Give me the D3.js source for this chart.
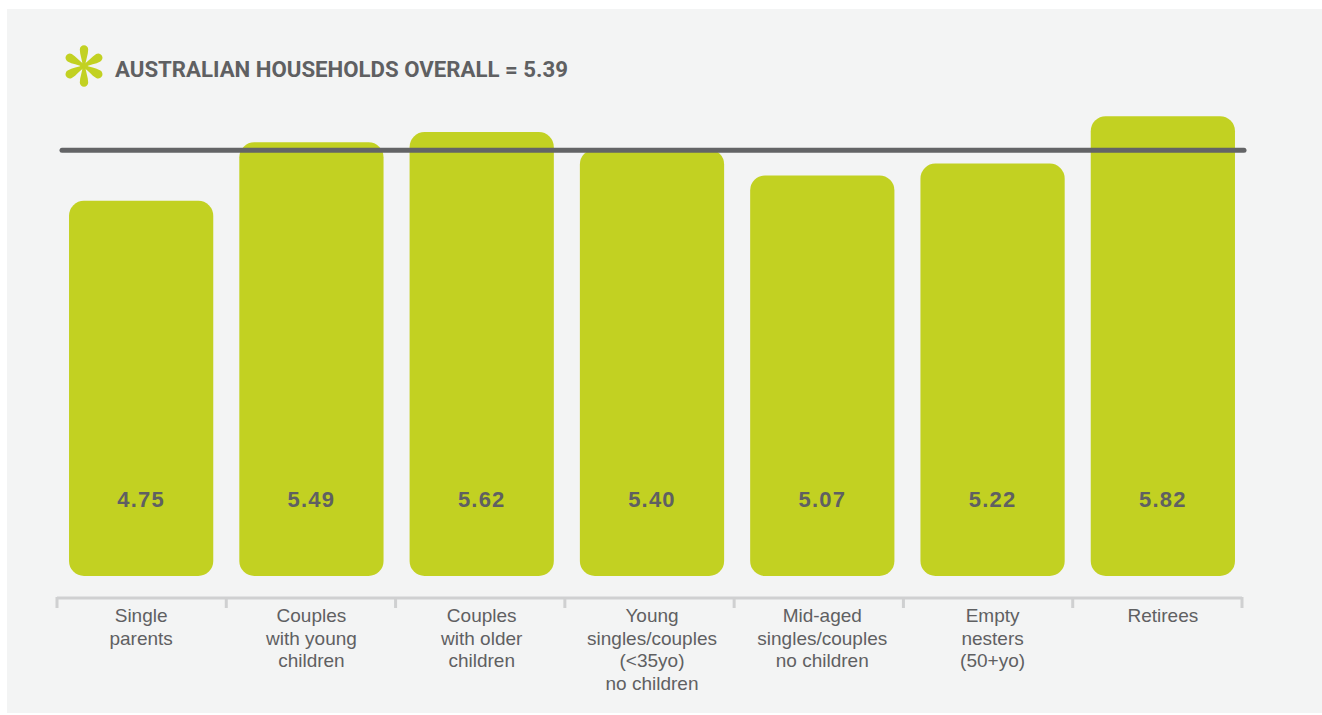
<!DOCTYPE html>
<html><head><meta charset="utf-8">
<script src="https://cdn.jsdelivr.net/npm/d3@7"></script>
<style>body{margin:0;background:#fff;}svg{display:block;}</style>
</head><body>
<svg id="c" width="1322" height="715"></svg>
<script>
const categories = [
  ["Single","parents"],
  ["Couples","with young","children"],
  ["Couples","with older","children"],
  ["Young","singles/couples","(<35yo)","no children"],
  ["Mid-aged","singles/couples","no children"],
  ["Empty","nesters","(50+yo)"],
  ["Retirees"]
];
const values = [4.75, 5.49, 5.62, 5.40, 5.07, 5.22, 5.82];
const overall = 5.39;
const titleText = "AUSTRALIAN HOUSEHOLDS OVERALL = 5.39";

const svg = d3.select("#c");
svg.append("rect").attr("x",7).attr("y",9).attr("width",1315).attr("height",704).attr("fill","#f3f4f4");

const keys = categories.map((d,i)=>i);
const x = d3.scaleBand().domain(keys).range([57,1247]).paddingInner(26/170).paddingOuter(12/170);
const y = d3.scaleLinear().domain([0,6]).range([576,576-6*79]);

const green = "#c2d122";
// bars
svg.append("g").selectAll("rect").data(values).join("rect")
  .attr("x",(d,i)=>x(i)).attr("width",x.bandwidth())
  .attr("y",d=>y(d)).attr("height",d=>y(0)-y(d))
  .attr("rx",15).attr("ry",15).attr("fill",green);

// value labels
svg.append("g").selectAll("text").data(values).join("text")
  .attr("x",(d,i)=>x(i)+x.bandwidth()/2).attr("y",507)
  .attr("text-anchor","middle")
  .attr("font-family","Liberation Sans, Arial, sans-serif")
  .attr("font-weight","bold").attr("font-size",22).attr("letter-spacing",1.2).attr("fill","#5f6062")
  .text(d=>d.toFixed(2));

// overall line
svg.append("line").attr("x1",62).attr("x2",1244)
  .attr("y1",y(overall)).attr("y2",y(overall))
  .attr("stroke","#636466").attr("stroke-width",5).attr("stroke-linecap","round");

// axis
const xa = d3.scaleBand().domain(keys).range([57,1242]);
const axis = svg.append("g");
axis.append("line").attr("x1",57).attr("x2",1242).attr("y1",598).attr("y2",598)
  .attr("stroke","#cfd0d1").attr("stroke-width",3);
const tickPos = keys.map(k=>xa(k)).concat([1242]);
axis.selectAll("line.t").data(tickPos).join("line").attr("class","t")
  .attr("x1",d=>d).attr("x2",d=>d).attr("y1",597).attr("y2",608)
  .attr("stroke","#cfd0d1").attr("stroke-width",3);

// category labels
const lab = svg.append("g").selectAll("text").data(categories).join("text")
  .attr("text-anchor","middle")
  .attr("font-family","Liberation Sans, Arial, sans-serif")
  .attr("font-size",19).attr("fill","#5f6062");
lab.each(function(lines,i){
  const t = d3.select(this);
  lines.forEach((l,j)=>{
    t.append("tspan").attr("x",x(i)+x.bandwidth()/2).attr("y",622+j*22.5).text(l);
  });
});

// title icon (asterisk)
const icon = svg.append("g").attr("transform","translate(84,66)");
for(let k=0;k<6;k++){
  const ang = 90 + k*60;
  icon.append("path")
    .attr("d","M0,-1.3 C6,-1.6 11,-4.2 16.5,-4.2 A4.2,4.2 0 0 1 16.5,4.2 C11,4.2 6,1.6 0,1.3 Z")
    .attr("fill",green)
    .attr("transform",`rotate(${ang})`);
}
icon.append("circle").attr("r",2.2).attr("fill",green);

// title
svg.append("text").attr("x",115).attr("y",77)
  .attr("font-family","Roboto, Liberation Sans, sans-serif")
  .attr("font-weight","bold").attr("font-size",22).attr("fill","#5f6062")
  .attr("textLength",453).attr("lengthAdjust","spacingAndGlyphs")
  .text(titleText);
</script>
</body></html>
